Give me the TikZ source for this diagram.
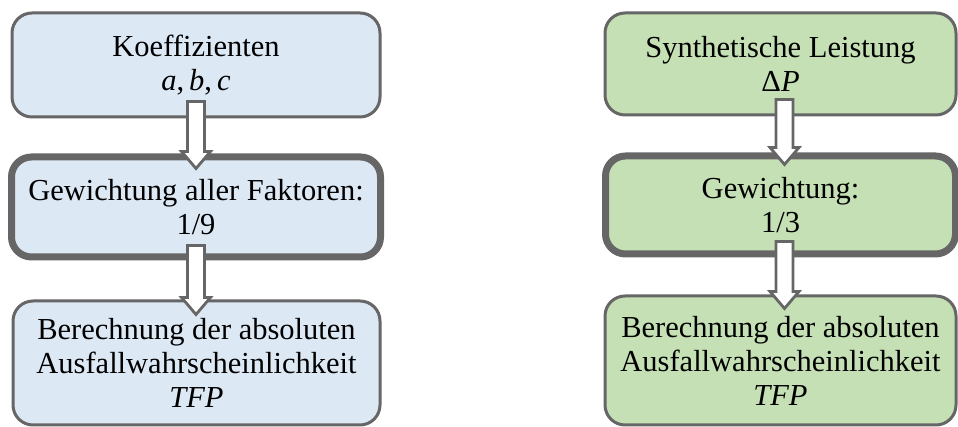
\documentclass[tikz,border=0pt]{standalone}
\usepackage{fontspec}
\setmainfont{Liberation Serif}
\usetikzlibrary{calc}

\definecolor{boxline}{RGB}{102,102,102}
\definecolor{bluefill}{RGB}{221,232,245}
\definecolor{greenfill}{RGB}{197,224,180}

% hollow block arrow from #1 down to #2
\newcommand{\flowarrow}[2]{%
  \draw[arr] let \p1=(#1), \p2=(#2) in
    (\x1-8.5,\y1) -- (\x1+8.5,\y1) -- (\x1+8.5,\y2+17) -- (\x1+14.5,\y2+17)
    -- (\x1,\y2) -- (\x1-14.5,\y2+17) -- (\x1-8.5,\y2+17) -- cycle;}

\begin{document}
\begin{tikzpicture}[x=1pt, y=1pt, font=\fontsize{30.5}{34}\selectfont,
    box/.style={draw=boxline, rectangle, rounded corners=20, line width=3pt, align=center, inner sep=0pt},
    boxbold/.style={box, line width=7pt},
    blue/.style={fill=bluefill}, green/.style={fill=greenfill},
    arr/.style={draw=boxline, fill=white, line width=2.8pt, line join=miter}]
                \useasboundingbox (0,0) rectangle (958,427);
                % left column
                \node[box, blue, minimum width=368, minimum height=104] (koeff) at (196,362) {Koeffizienten\\ \textit{a},\,\textit{b},\,\textit{c}};
                \node[boxbold, blue, minimum width=369, minimum height=100] (gewall) at (196,220) {Gewichtung aller Faktoren:\\ 1/9};
                \node[box, blue, minimum width=367, minimum height=124] (tfpl) at (196.5,64) {Berechnung der absoluten\\ Ausfallwahrscheinlichkeit\\ \textit{TFP}};
                % right column
                \node[box, green, minimum width=351, minimum height=102] (leist) at (780.5,363) {Synthetische Leistung\\ Δ\textit{P}};
                \node[boxbold, green, minimum width=350, minimum height=98] (gewr) at (780.5,222) {Gewichtung:\\ 1/3};
                \node[box, green, minimum width=351, minimum height=129] (tfpr) at (780.5,66.5) {Berechnung der absoluten\\ Ausfallwahrscheinlichkeit\\ \textit{TFP}};
                % arrows
                \flowarrow{$(koeff.south)+(0,17)$}{$(gewall.north)+(0,-15)$}
                \flowarrow{$(gewall.south)+(0,15)$}{$(tfpl.north)+(0,-15)$}
                \flowarrow{$(leist.south)+(4,17)$}{$(gewr.north)+(4,-12)$}
                \flowarrow{$(gewr.south)+(4,16)$}{$(tfpr.north)+(4,-14)$}
            \end{tikzpicture}
\end{document}
